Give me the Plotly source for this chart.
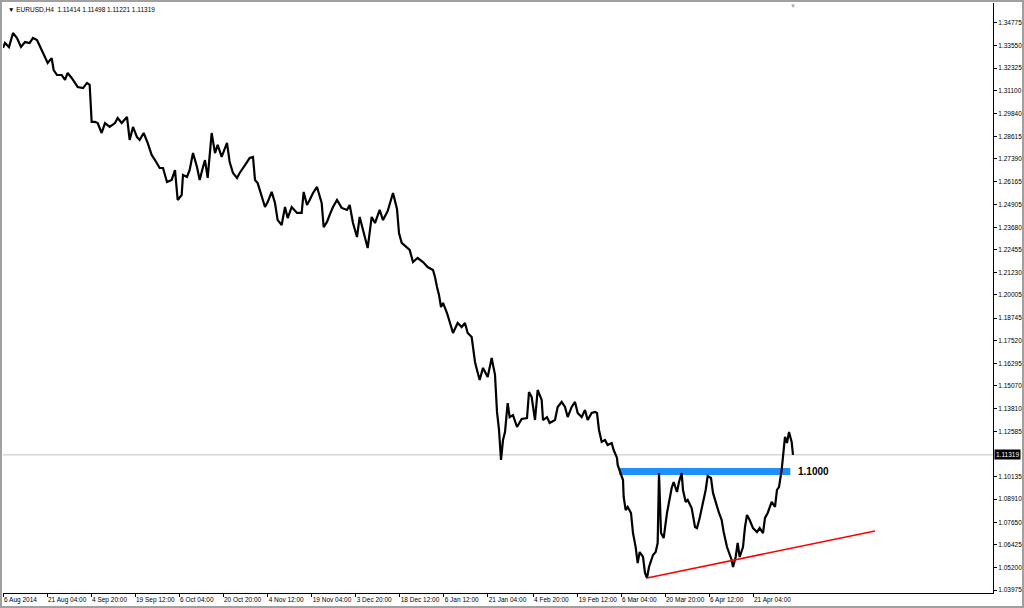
import plotly.graph_objects as go

# ---- data (H4 bar index, price) ----
bar_idx = [0, 3, 9, 15, 21, 27, 33, 40, 45, 51, 58, 63, 67, 73, 76, 81, 88, 93, 97, 103,
           108, 112, 120, 126, 130, 133, 138, 142, 148, 153, 160, 168, 172, 178, 186, 190, 195, 201, 205, 211,
           217, 223, 228, 235, 240, 246, 253, 258, 262, 268, 270, 276, 280, 285, 291, 295, 300, 303, 307, 313,
           318, 322, 328, 336, 340, 345, 351, 355, 363, 370, 375, 378, 382, 388, 393, 397, 403, 408, 412, 418,
           423, 427, 433, 441, 448, 451, 456, 460, 465, 471, 475, 478, 481, 486, 490, 495, 501, 508, 516, 520,
           525, 531, 535, 540, 547, 553, 558, 565, 570, 577, 585, 591, 594, 598, 606, 610, 615, 622, 630, 637,
           645, 648, 651, 654, 657, 660, 666, 670, 675, 682, 688, 693, 697, 703, 708, 711, 715, 720, 727, 733,
           738, 741, 744, 747, 750, 753, 757, 760, 765, 771, 778, 786, 789, 793, 798, 802, 808, 810, 816, 820,
           828, 832, 838, 843, 847, 853, 858, 862, 868, 873, 877, 883, 888, 891, 894, 898, 903, 907, 913, 916,
           921, 922, 927, 930, 931, 934, 937, 942, 945, 949, 952, 955, 960, 963, 966, 969, 975, 979, 982, 984,
           987, 991, 996, 999, 1003, 1006, 1011, 1014, 1018, 1020, 1024, 1027, 1033, 1038, 1041, 1045, 1050, 1054, 1057, 1062,
           1065, 1071, 1074, 1078, 1081, 1086, 1089, 1093, 1095, 1099, 1102, 1105, 1110, 1113, 1116, 1120, 1125, 1131, 1135, 1140,
           1143, 1147, 1153, 1158, 1161, 1164, 1168, 1170, 1173, 1176, 1179, 1183, 1185]

close = [1.3342, 1.3369, 1.3347, 1.3423, 1.3396, 1.3347, 1.3374, 1.3369, 1.3396, 1.3385, 1.3331, 1.3293, 1.3260, 1.3287, 1.3222, 1.3195, 1.3195, 1.3168, 1.3206, 1.3179,
         1.3152, 1.3130, 1.3124, 1.3152, 1.3141, 1.2940, 1.2940, 1.2934, 1.2880, 1.2934, 1.2913, 1.2934, 1.2961, 1.2934, 1.2967, 1.2842, 1.2913, 1.2858, 1.2842, 1.2880,
         1.2826, 1.2761, 1.2733, 1.2690, 1.2690, 1.2614, 1.2625, 1.2679, 1.2516, 1.2543, 1.2652, 1.2641, 1.2679, 1.2771, 1.2695, 1.2625, 1.2695, 1.2733, 1.2636, 1.2880,
         1.2771, 1.2815, 1.2750, 1.2826, 1.2722, 1.2663, 1.2636, 1.2663, 1.2706, 1.2744, 1.2750, 1.2625, 1.2608, 1.2532, 1.2478, 1.2505, 1.2560, 1.2500, 1.2407, 1.2380,
         1.2478, 1.2418, 1.2478, 1.2446, 1.2446, 1.2560, 1.2489, 1.2516, 1.2554, 1.2587, 1.2543, 1.2500, 1.2369, 1.2397, 1.2435, 1.2478, 1.2516, 1.2473, 1.2462, 1.2489,
         1.2391, 1.2315, 1.2424, 1.2353, 1.2255, 1.2424, 1.2391, 1.2462, 1.2407, 1.2456, 1.2554, 1.2467, 1.2337, 1.2283, 1.2261, 1.2245, 1.2179, 1.2201, 1.2179, 1.2152,
         1.2136, 1.2098, 1.2044, 1.2000, 1.1935, 1.1957, 1.1902, 1.1848, 1.1794, 1.1848, 1.1826, 1.1848, 1.1794, 1.1772, 1.1636, 1.1593, 1.1538, 1.1604, 1.1555, 1.1658,
         1.1566, 1.1365, 1.1267, 1.1104, 1.1212, 1.1256, 1.1413, 1.1337, 1.1348, 1.1283, 1.1327, 1.1332, 1.1473, 1.1446, 1.1321, 1.1484, 1.1430, 1.1321, 1.1337, 1.1305,
         1.1321, 1.1392, 1.1419, 1.1392, 1.1337, 1.1392, 1.1419, 1.1359, 1.1337, 1.1375, 1.1321, 1.1359, 1.1365, 1.1359, 1.1267, 1.1202, 1.1212, 1.1185, 1.1196, 1.1158,
         1.1115, 1.1077, 1.1022, 1.0995, 1.0903, 1.0832, 1.0849, 1.0816, 1.0707, 1.0631, 1.0544, 1.0604, 1.0577, 1.0490, 1.0463, 1.0523, 1.0588, 1.0604, 1.0653, 1.1033,
         1.0707, 1.0680, 1.0816, 1.0870, 1.0952, 1.0984, 1.0930, 1.0984, 1.1033, 1.0941, 1.0876, 1.0887, 1.0843, 1.0740, 1.0734, 1.0789, 1.0870, 1.0941, 1.1017, 1.1006,
         1.0925, 1.0849, 1.0816, 1.0778, 1.0713, 1.0631, 1.0599, 1.0561, 1.0523, 1.0577, 1.0653, 1.0577, 1.0631, 1.0740, 1.0805, 1.0778, 1.0734, 1.0713, 1.0734, 1.0707,
         1.0789, 1.0816, 1.0876, 1.0849, 1.0941, 1.0957, 1.1050, 1.1120, 1.1229, 1.1196, 1.1256, 1.1202, 1.1132]

y_ticks = [1.34775, 1.33550, 1.32325, 1.31100, 1.29840, 1.28615, 1.27390, 1.26165, 1.24905,
           1.23680, 1.22455, 1.21230, 1.20005, 1.18745, 1.17520, 1.16295, 1.15070, 1.13810,
           1.12585, 1.10135, 1.08910, 1.07650, 1.06425, 1.05200, 1.03975]

x_tick_bars = [0, 66, 132, 198, 264, 330, 397, 463, 529, 595, 661, 727, 795, 862, 927, 993, 1059, 1125]
x_tick_labels = ["6 Aug 2014", "21 Aug 04:00", "4 Sep 20:00", "19 Sep 12:00", "6 Oct 04:00",
                 "20 Oct 20:00", "4 Nov 12:00", "19 Nov 04:00", "3 Dec 20:00", "18 Dec 12:00",
                 "6 Jan 12:00", "21 Jan 04:00", "4 Feb 20:00", "19 Feb 12:00", "6 Mar 04:00",
                 "20 Mar 20:00", "6 Apr 12:00", "21 Apr 04:00"]

header_text = "▼ EURUSD,H4  1.11414 1.11498 1.11221 1.11319"
last_price = 1.11319

level_bars = [924, 1181]
level_band = [1.1022, 1.1060]
level_label = "1.1000"
level_label_price = 1.1041

trend_bars = [966, 1308]
trend_prices = [1.0463, 1.0718]

FONT = "Liberation Sans, Arial, sans-serif"

fig = go.Figure()

fig.add_trace(go.Scatter(x=bar_idx, y=close, mode="lines",
                         line=dict(color="black", width=2.2), hoverinfo="skip",
                         showlegend=False))
fig.add_trace(go.Scatter(x=trend_bars, y=trend_prices, mode="lines",
                         line=dict(color="#FF0000", width=1.5), hoverinfo="skip",
                         showlegend=False))

shapes = [
    dict(type="line", xref="paper", yref="y", x0=0, x1=1, y0=last_price, y1=last_price,
         line=dict(color="#C0C0C0", width=1), layer="below"),
    dict(type="rect", xref="x", yref="y", x0=level_bars[0], x1=level_bars[1],
         y0=level_band[0], y1=level_band[1], fillcolor="#1E90FF",
         line=dict(width=0), layer="below"),
    # window frame
    dict(type="rect", xref="paper", yref="paper", x0=-2/990, x1=1 + 30/990,
         y0=-14/590, y1=1 + 2/590, line=dict(color="#A0A0A0", width=2), layer="above"),
]

annotations = [
    dict(text=header_text, xref="paper", yref="paper", x=3/990, y=1 - 1/590,
         xanchor="left", yanchor="top", showarrow=False,
         font=dict(family=FONT, size=6.5, color="black")),
    dict(text=level_label, xref="x", yref="y", x=level_bars[1] + 9, y=level_label_price,
         xanchor="left", yanchor="middle", showarrow=False,
         font=dict(family=FONT, size=10, color="black", weight="bold")),
    dict(text=f"{last_price:.5f}", xref="paper", yref="y", x=1, y=last_price,
         xanchor="left", yanchor="middle", xshift=1, showarrow=False,
         bgcolor="black", borderpad=1,
         font=dict(family=FONT, size=6.5, color="white")),
    dict(text="▼", xref="x", yref="paper", x=1185, y=1 + 2/590,
         xanchor="center", yanchor="top", showarrow=False,
         font=dict(family=FONT, size=6, color="#A8A8A8")),
]

fig.update_layout(
    width=1024, height=608,
    margin=dict(l=3, r=31, t=3, b=15, autoexpand=False),
    paper_bgcolor="white", plot_bgcolor="white",
    shapes=shapes, annotations=annotations,
    showlegend=False,
    xaxis=dict(range=[0, 1485], showgrid=False, zeroline=False, automargin=False,
               showline=True, linecolor="black", linewidth=1,
               tickmode="array", tickvals=x_tick_bars, ticktext=x_tick_labels,
               tickangle=0,
               ticks="outside", ticklen=3, tickcolor="black",
               ticklabelposition="outside right",
               tickfont=dict(family=FONT, size=6.5, color="black")),
    yaxis=dict(range=[1.03814, 1.35861], side="right", showgrid=False, zeroline=False,
               automargin=False,
               showline=True, linecolor="black", linewidth=1,
               tickmode="array", tickvals=y_ticks,
               ticktext=[f"{v:.5f}" for v in y_ticks],
               ticks="outside", ticklen=3, tickcolor="black",
               tickfont=dict(family=FONT, size=6.5, color="black")),
)

fig.write_html("out.html", config={"displayModeBar": False},
               post_script="document.body.style.margin='0';document.body.style.overflow='hidden';")
